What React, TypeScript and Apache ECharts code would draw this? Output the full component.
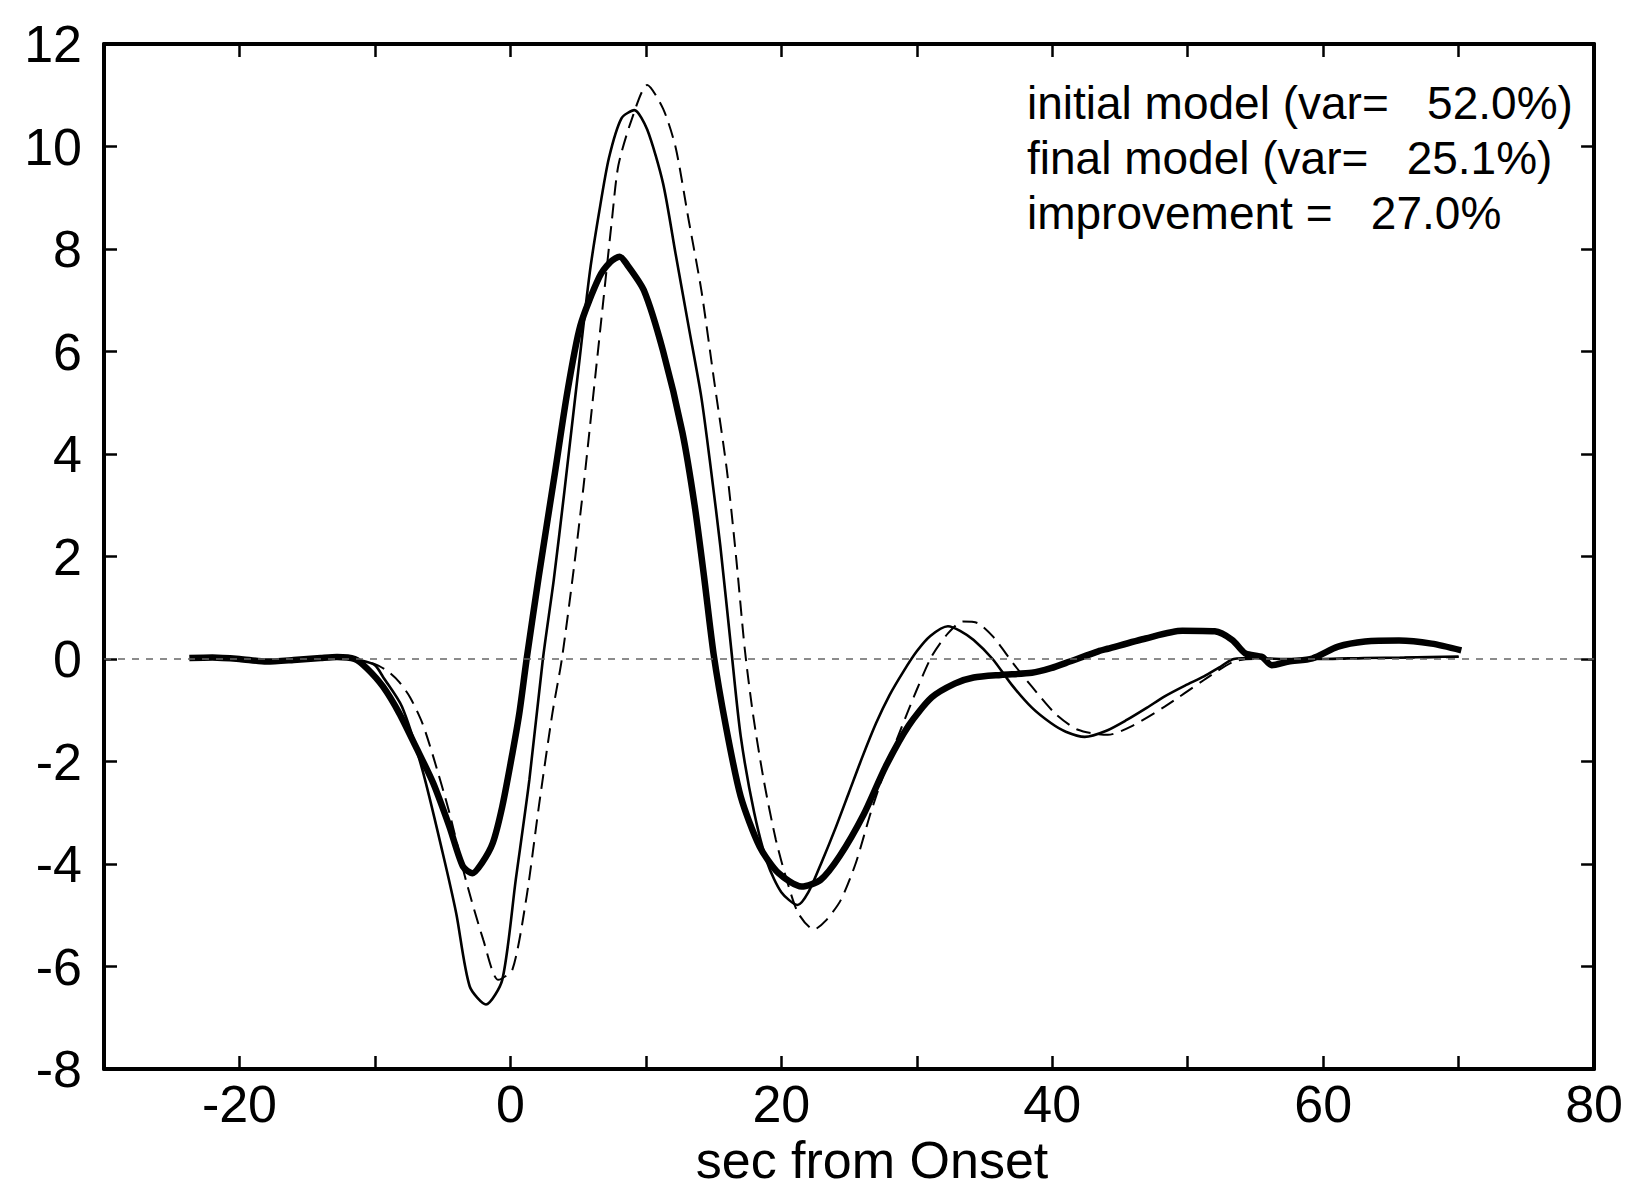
import React, { useEffect, useRef } from "react";
import * as echarts from "echarts";

// observed (thick solid)
const obsX = [-23.7, -22, -20, -18, -16, -14, -12.8, -11.5, -10.6, -9.4, -8.2, -7.0, -5.7, -4.5, -3.5, -2.8, -2.1, -1.3, -0.6, 0.15, 0.66, 1.2, 2.1, 3.27, 4.2, 5.16, 6.56, 7.4, 8.07, 8.6, 9.86, 11.27, 12.7, 13.6, 14.3, 15.0, 15.9, 17.0, 18.4, 19.8, 21.5, 22.9, 24.3, 26.05, 27.7, 29.4, 31.1, 32.8, 34.2, 36.2, 38.5, 39.9, 41.3, 43.4, 44.1, 46.9, 49.6, 52.0, 53.3, 54.25, 55.5, 56.2, 57.45, 59.2, 61.1, 63.1, 65.6, 68.0, 70.2];
const obsY = [0.02, 0.03, 0.0, -0.05, -0.02, 0.02, 0.04, 0.0, -0.18, -0.54, -1.06, -1.7, -2.42, -3.27, -4.05, -4.18, -3.98, -3.59, -2.88, -1.84, -1.06, 0.0, 1.62, 3.6, 5.2, 6.5, 7.45, 7.75, 7.85, 7.7, 7.19, 6.01, 4.42, 3.0, 1.6, 0.1, -1.3, -2.68, -3.66, -4.18, -4.44, -4.31, -3.85, -3.05, -2.1, -1.3, -0.75, -0.48, -0.36, -0.31, -0.27, -0.18, -0.05, 0.15, 0.2, 0.4, 0.55, 0.54, 0.37, 0.11, 0.04, -0.12, -0.05, 0.01, 0.24, 0.34, 0.36, 0.3, 0.17];

// initial model (thin solid)
const initX = [-12, -11, -10, -9.4, -8, -6.5, -5, -4, -3, -1.8, -0.6, 0.4, 1.4, 2.4, 3.2, 4.0, 5.0, 5.86, 6.56, 7.27, 8.2, 9.15, 10.1, 11.27, 12.2, 13.15, 14.1, 14.8, 15.5, 16.3, 17.0, 18.0, 19.0, 20.0, 21.2, 22.0, 23.0, 24.0, 25.0, 26.0, 27.0, 28.0, 29.0, 30.0, 31.0, 32.3, 33.2, 34.2, 35.6, 37.0, 38.5, 39.9, 41.0, 42.4, 44.0, 45.5, 47.0, 48.3, 49.8, 51.2, 52.3, 53.4, 55, 57, 60, 63, 66, 70];
const initY = [0, -0.03, -0.12, -0.35, -0.93, -2.16, -3.78, -4.96, -6.39, -6.74, -6.26, -4.3, -2.36, 0, 1.54, 3.3, 5.6, 7.54, 8.73, 9.77, 10.55, 10.71, 10.33, 9.28, 7.9, 6.5, 5.1, 3.71, 2.2, 0.2, -1.5, -3.0, -4.0, -4.55, -4.8, -4.55, -3.95, -3.3, -2.6, -1.9, -1.25, -0.7, -0.25, 0.15, 0.45, 0.64, 0.55, 0.37, 0, -0.5, -0.95, -1.25, -1.42, -1.52, -1.4, -1.19, -0.95, -0.73, -0.52, -0.34, -0.17, 0, 0.02, 0, 0, 0.02, 0.03, 0.05];

// final model (thin dashed)
const finalX = [-12, -10, -9, -8.2, -7.4, -6.5, -5.7, -4.5, -3.3, -2.0, -0.9, 0.15, 1.2, 2.1, 3.1, 3.8, 4.68, 5.4, 6.1, 6.8, 7.5, 7.97, 8.92, 10.1, 11.27, 12.2, 13.15, 14.1, 15.03, 15.97, 16.67, 17.3, 17.9, 18.7, 19.6, 20.4, 21.25, 22.4, 23.3, 24.4, 25.5, 26.6, 27.75, 28.9, 30.0, 31.1, 32.3, 33.4, 34.5, 35.65, 37.1, 38.5, 40.2, 41.9, 44.1, 45.8, 48.3, 51.2, 53.4, 55, 60, 65, 70];
const finalY = [0, -0.1, -0.25, -0.45, -0.75, -1.25, -1.9, -3.0, -4.3, -5.48, -6.26, -6.06, -4.63, -2.88, -1.06, 0, 1.76, 3.37, 5.1, 6.84, 8.58, 9.63, 10.5, 11.2, 10.74, 9.98, 8.58, 7.19, 5.45, 3.71, 1.97, 0.2, -1.06, -2.36, -3.53, -4.31, -4.96, -5.28, -5.1, -4.7, -3.98, -3.0, -2.1, -1.32, -0.6, 0.05, 0.5, 0.73, 0.7, 0.43, -0.08, -0.54, -1.06, -1.38, -1.48, -1.32, -0.93, -0.41, -0.05, 0, 0, 0.02, 0.04];

const legendLines = [
  "initial model (var=   52.0%)",
  "final model (var=   25.1%)",
  "improvement =   27.0%",
];
const xAxisName = "sec from Onset";

const zip = (xs: number[], ys: number[]) => xs.map((x, i) => [x, ys[i]]);

export default function App() {
  const ref = useRef<HTMLDivElement>(null);
  useEffect(() => {
    document.body.style.margin = "0";
    document.body.style.overflow = "hidden";
    document.documentElement.style.overflow = "hidden";
    const chart = echarts.init(ref.current as HTMLDivElement, null, { renderer: "svg" });
    const font = "'Liberation Sans', Arial, Helvetica, sans-serif";
    const frame = { show: true, onZero: false, lineStyle: { color: "#000", width: 4 } };
    const tick = { show: true, inside: true, length: 13, lineStyle: { color: "#000", width: 2.5 } };
    chart.setOption({
      animation: false,
      backgroundColor: "#ffffff",
      grid: { left: 104, right: 30, top: 44, bottom: 121, containLabel: false },
      xAxis: [
        {
          type: "value", min: -30, max: 80, interval: 10, position: "bottom",
          axisLine: frame, axisTick: tick, splitLine: { show: false },
          axisLabel: {
            formatter: (v: number) => (v % 20 === 0 ? String(v) : ""),
            fontSize: 52, color: "#000", fontFamily: font, margin: 9,
          },
        },
        {
          type: "value", min: -30, max: 80, interval: 10, position: "top",
          axisLine: frame, axisTick: tick, splitLine: { show: false }, axisLabel: { show: false },
        },
      ],
      yAxis: [
        {
          type: "value", min: -8, max: 12, interval: 2, position: "left",
          axisLine: frame, axisTick: tick, splitLine: { show: false },
          axisLabel: { fontSize: 52, color: "#000", fontFamily: font, margin: 22 },
        },
        {
          type: "value", min: -8, max: 12, interval: 2, position: "right",
          axisLine: frame, axisTick: tick, splitLine: { show: false }, axisLabel: { show: false },
        },
      ],
      series: [
        {
          type: "line", name: "final", data: zip(finalX, finalY), showSymbol: false, symbol: "none",
          smooth: 0.25,
          lineStyle: { color: "#000", width: 2, type: [15, 8] },
          markLine: {
            silent: true, symbol: ["none", "none"], label: { show: false },
            lineStyle: { color: "#666", width: 1.5, type: [7, 7] },
            data: [{ yAxis: 0 }],
          },
        },
        {
          type: "line", name: "initial", data: zip(initX, initY), showSymbol: false, symbol: "none",
          smooth: 0.25,
          lineStyle: { color: "#000", width: 2.6 },
        },
        {
          type: "line", name: "observed", data: zip(obsX, obsY), showSymbol: false, symbol: "none",
          smooth: 0.25,
          lineStyle: { color: "#000", width: 6.5, join: "round" },
        },
      ],
      graphic: [
        ...legendLines.map((t, i) => ({
          type: "text", x: 1027, y: 103 + i * 55,
          style: { text: t, fontSize: 46, fontFamily: font, fill: "#000", verticalAlign: "middle", align: "left" },
        })),
        {
          type: "text", x: 872, y: 1160,
          style: { text: xAxisName, fontSize: 52, fontFamily: font, fill: "#000", verticalAlign: "middle", align: "center" },
        },
      ],
    });
    return () => chart.dispose();
  }, []);
  return <div ref={ref} style={{ width: 1626, height: 1190 }} />;
}
